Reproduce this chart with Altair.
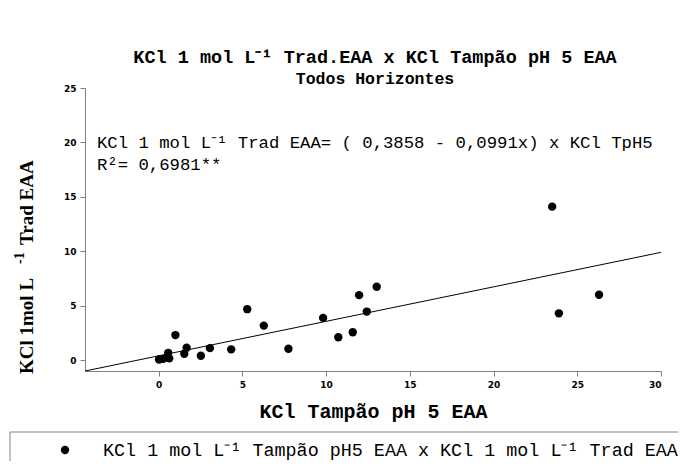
import altair as alt
import pandas as pd

# --- data ---
x_vals = [0.02, 0.27, 0.63, 0.57, 1.0, 1.53, 1.67, 2.52, 3.06, 4.33, 5.29, 6.28,
          7.75, 9.82, 10.73, 11.59, 11.97, 12.43, 13.02, 23.5, 23.9, 26.3]
y_vals = [0.06, 0.12, 0.16, 0.67, 2.3, 0.58, 1.14, 0.40, 1.1, 0.99, 4.68, 3.17,
          1.04, 3.88, 2.10, 2.56, 5.97, 4.46, 6.74, 14.1, 4.3, 6.0]
fit_x = [-4.4, 30.0]
fit_y = [-1.0, 9.9]
x_ticks = [0, 5, 10, 15, 20, 25, 30]
y_ticks = [0, 5, 10, 15, 20, 25]

title_1 = "KCl 1 mol L⁻¹ Trad.EAA x KCl Tampão pH 5 EAA"
title_2 = "Todos Horizontes"
x_title = "KCl Tampão pH 5 EAA"
y_title_a = "KCl 1mol L"
y_title_sup = "-1"
y_title_b = "Trad EAA"
eq_text = "KCl 1 mol L⁻¹ Trad EAA= ( 0,3858 - 0,0991x) x KCl TpH5"
r2_text = "R²= 0,6981**"
legend_text = "KCl 1 mol L⁻¹ Tampão pH5 EAA x  KCl 1 mol L⁻¹ Trad EAA"

pts = pd.DataFrame({"x": x_vals, "y": y_vals})
fit = pd.DataFrame({"x": fit_x, "y": fit_y})

xs = alt.Scale(domain=[-4.4, 30], nice=False, zero=False)
ys = alt.Scale(domain=[-1, 25], nice=False, zero=False)

MONO = "Liberation Mono"

axis_common = dict(domainColor="#808080", tickColor="#808080", tickSize=5,
                   labelFont="DejaVu Sans", labelFontWeight="bold", labelFontSize=9,
                   labelColor="black", grid=False)

points = alt.Chart(pts).mark_point(filled=True, color="black", size=70, opacity=1).encode(
    x=alt.X("x:Q", scale=xs,
            axis=alt.Axis(values=x_ticks, title=x_title, titleFont=MONO,
                          titleFontWeight="bold", titleFontSize=20, titleColor="black",
                          titleY=40, titleBaseline="middle", labelPadding=4, **axis_common)),
    y=alt.Y("y:Q", scale=ys,
            axis=alt.Axis(values=y_ticks, title=None, labelPadding=4, **axis_common)),
)

line = alt.Chart(fit).mark_line(color="black", strokeWidth=1).encode(
    x=alt.X("x:Q", scale=xs), y=alt.Y("y:Q", scale=ys))


def txt(s, x, y, size, weight="normal", font=MONO, align="left", angle=0,
        baseline="middle"):
    kw = dict(align=align, baseline=baseline, font=font, fontSize=size,
              fontWeight=weight, color="black")
    if angle:
        kw["angle"] = angle
    return alt.Chart(pd.DataFrame({"t": [s]})).mark_text(**kw).encode(
        text="t:N", x=alt.value(x), y=alt.value(y))


texts = [
    txt(title_1, 290, -31, 18.5, "bold", align="center"),
    txt(title_2, 290, -9, 16.5, "bold", align="center"),
    txt(eq_text, 12, 55, 17.3),
    txt(r2_text, 12, 77, 17.3),
    txt(y_title_a, -52, 286, 19, "bold", font="Liberation Serif", angle=270,
        baseline="alphabetic"),
    txt(y_title_sup, -61, 176, 14, "bold", font="Liberation Serif", angle=270,
        baseline="alphabetic"),
    txt(y_title_b, -52, 157, 19, "bold", font="Liberation Serif", angle=270,
        baseline="alphabetic"),
    txt(legend_text, 18, 362, 18.4),
]

legend_box = alt.Chart(pd.DataFrame({"a": [0]})).mark_rect(
    fillOpacity=0, stroke="#808080", strokeWidth=1).encode(
    x=alt.value(-75), x2=alt.value(640), y=alt.value(344), y2=alt.value(420))
legend_dot = alt.Chart(pd.DataFrame({"a": [0]})).mark_point(
    filled=True, color="black", size=70, opacity=1).encode(
    x=alt.value(-20), y=alt.value(362))

chart = alt.layer(line, points, legend_box, legend_dot, *texts).properties(
    width=576, height=283,
    autosize=alt.AutoSizeParams(type="none"),
    padding={"left": 77, "top": 80, "right": 17, "bottom": 90},
    background="white",
).configure_view(strokeWidth=0)

chart.save("out.html", embed_options={"renderer": "svg", "actions": False})
